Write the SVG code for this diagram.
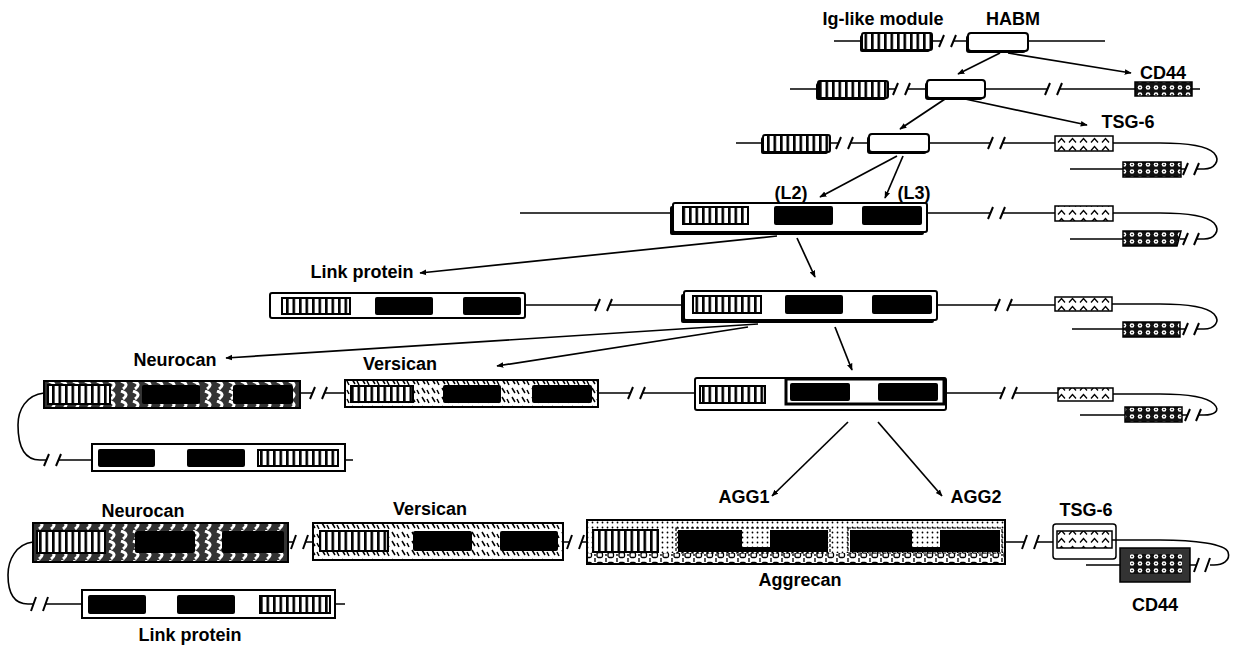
<svg xmlns="http://www.w3.org/2000/svg" width="1235" height="647" viewBox="0 0 1235 647">
<defs>
<style>
.t{font-family:"Liberation Sans",Arial,sans-serif;font-weight:bold;font-size:18px;fill:#000}
.ln{stroke:#000;stroke-width:1.6;fill:none}
.br{stroke:#000;stroke-width:2;fill:none}
.ig{fill:url(#pIg);stroke:#000;stroke-width:2}
.wb{fill:#fff;stroke:#000;stroke-width:2}
.blk{fill:#000}
.sh{fill:#000}
.tsg{fill:url(#pTsg);stroke:#000;stroke-width:1.5}
.cd{fill:url(#pCd);stroke:#000;stroke-width:1.5}
.ar{stroke:#000;stroke-width:1.7;fill:none;marker-end:url(#ah)}
.neu{fill:url(#pNeu);stroke:#000;stroke-width:2}
.ver{fill:url(#pVer);stroke:#000;stroke-width:2}
.agg{fill:url(#pAgg);stroke:#000;stroke-width:2}
</style>
<marker id="ah" viewBox="0 0 10 10" refX="9" refY="5" markerWidth="7" markerHeight="7" orient="auto" markerUnits="userSpaceOnUse"><path d="M0,1 L10,5 L0,9 Z" fill="#000"/></marker>
<pattern id="pIg" width="6.5" height="40" patternUnits="userSpaceOnUse"><rect width="6.5" height="40" fill="#fff"/><rect x="0" width="2.6" height="40" fill="#000"/></pattern>
<pattern id="pTsg" width="11" height="8" patternUnits="userSpaceOnUse"><rect width="11" height="8" fill="#fff"/><path d="M2,6.5 L5.5,2.5 L9,6.5" stroke="#000" stroke-width="1.3" fill="none"/></pattern>
<pattern id="pCd" width="8" height="7" patternUnits="userSpaceOnUse"><rect width="8" height="7" fill="#111"/><circle cx="4" cy="3.5" r="2.3" fill="#fff"/><circle cx="4" cy="3.5" r="0.8" fill="#000"/></pattern>
<pattern id="pNeu" width="12" height="10" patternUnits="userSpaceOnUse"><rect width="12" height="10" fill="#333"/><path d="M1,1 Q10,4 3,9" stroke="#fff" stroke-width="3" fill="none"/></pattern>
<pattern id="pVer" width="10" height="9" patternUnits="userSpaceOnUse"><rect width="10" height="9" fill="#fff"/><path d="M2,1 L5,6 M7,3 L9,7" stroke="#000" stroke-width="1.5"/></pattern>
<pattern id="pAgg" width="5" height="5" patternUnits="userSpaceOnUse"><rect width="5" height="5" fill="#fff"/><circle cx="2.5" cy="2.5" r="0.9" fill="#000"/></pattern>
<pattern id="pAggB" width="11" height="10" patternUnits="userSpaceOnUse"><rect width="11" height="10" fill="#fff"/><circle cx="1" cy="1" r="0.9" fill="#000"/><circle cx="1" cy="5" r="0.9" fill="#000"/><circle cx="1" cy="9" r="0.9" fill="#000"/><rect x="3" y="2.5" width="5.5" height="5" rx="1.5" fill="#fff" stroke="#000" stroke-width="1.3"/></pattern>
</defs>
<rect width="1235" height="647" fill="#fff"/>

<g id="labels">
<text class="t" x="883" y="25" text-anchor="middle">Ig-like module</text>
<text class="t" x="1013" y="25" text-anchor="middle">HABM</text>
<text class="t" x="1163" y="79" text-anchor="middle">CD44</text>
<text class="t" x="1128" y="128" text-anchor="middle">TSG-6</text>
<text class="t" x="791" y="199" text-anchor="middle">(L2)</text>
<text class="t" x="914" y="199" text-anchor="middle">(L3)</text>
<text class="t" x="362" y="278" text-anchor="middle">Link protein</text>
<text class="t" x="175" y="366" text-anchor="middle">Neurocan</text>
<text class="t" x="400" y="370" text-anchor="middle">Versican</text>
<text class="t" x="143" y="517" text-anchor="middle">Neurocan</text>
<text class="t" x="430" y="515" text-anchor="middle">Versican</text>
<text class="t" x="744" y="503" text-anchor="middle">AGG1</text>
<text class="t" x="976" y="503" text-anchor="middle">AGG2</text>
<text class="t" x="1086" y="516" text-anchor="middle">TSG-6</text>
<text class="t" x="800" y="586" text-anchor="middle">Aggrecan</text>
<text class="t" x="190" y="641" text-anchor="middle">Link protein</text>
<text class="t" x="1155" y="611" text-anchor="middle">CD44</text>
</g>

<g id="row1">
<path class="ln" d="M834,41H862M932,41H941M953,41H968M1028,41H1105"/>
<path class="br" d="M939,47L944,35M951,47L956,35"/>
<rect class="sh" x="860" y="35" width="70" height="17" rx="2"/>
<rect class="ig" x="862" y="33" width="70" height="17" rx="2"/>
<rect class="sh" x="966" y="35" width="60" height="18" rx="3"/>
<rect class="wb" x="968" y="33" width="60" height="18" rx="3"/>
</g>

<g id="row2">
<path class="ln" d="M790,89H818M888,89H895M907,89H927M985,89H1047M1059,89H1135M1192,89H1200"/>
<path class="br" d="M893,95L898,83M905,95L910,83M1045,95L1050,83M1057,95L1062,83"/>
<rect class="sh" x="816" y="83" width="70" height="17" rx="2"/>
<rect class="ig" x="818" y="81" width="70" height="17" rx="2"/>
<rect class="sh" x="925" y="82" width="58" height="18" rx="3"/>
<rect class="wb" x="927" y="80" width="58" height="18" rx="3"/>
<rect class="cd" x="1135" y="82" width="57" height="14"/>
</g>

<g id="row3">
<path class="ln" d="M736,143H763M830,143H838M850,143H869M929,143H990M1002,143H1055"/>
<path class="br" d="M836,149L841,137M848,149L853,137M988,149L993,137M1000,149L1005,137"/>
<rect class="sh" x="761" y="137" width="67" height="17" rx="2"/>
<rect class="ig" x="763" y="135" width="67" height="17" rx="2"/>
<rect class="sh" x="867" y="136" width="60" height="18" rx="3"/>
<rect class="wb" x="869" y="134" width="60" height="18" rx="3"/>
<rect class="tsg" x="1055" y="136" width="58" height="15"/>
<path class="ln" d="M1113,143H1160C1190,143 1208,147 1214,153C1221,161 1214,169 1204,169H1197M1181,169H1185M1070,169H1123"/>
<path class="br" d="M1183,175L1188,163M1194,175L1199,163"/>
<rect class="cd" x="1123" y="162" width="58" height="15"/>
</g>

<g id="row4">
<path class="ln" d="M520,213H673M927,213H990M1002,213H1055"/>
<path class="br" d="M988,219L993,207M1000,219L1005,207"/>
<rect class="sh" x="670" y="206" width="254" height="29" rx="2"/>
<rect class="wb" x="673" y="203" width="254" height="29" rx="2"/>
<rect class="ig" x="683" y="207" width="65" height="17"/>
<rect class="blk" x="774" y="206" width="59" height="19" rx="2"/>
<rect class="blk" x="862" y="206" width="60" height="19" rx="2"/>
<rect class="tsg" x="1055" y="206" width="58" height="15"/>
<path class="ln" d="M1113,213H1160C1190,213 1208,217 1214,223C1221,231 1214,239 1204,239H1197M1180,239H1185M1070,239H1123"/>
<path class="br" d="M1183,245L1188,233M1194,245L1199,233"/>
<path class="cd" d="M1123,231H1181L1177,246H1123Z"/>
</g>

<g id="row5">
<path class="ln" d="M525,305H597M609,305H684M937,305H997M1009,305H1055"/>
<path class="br" d="M595,311L600,299M607,311L612,299M995,311L1000,299M1007,311L1012,299"/>
<rect class="wb" x="270" y="293" width="255" height="25" rx="2"/>
<rect class="ig" x="282" y="298" width="68" height="16"/>
<rect class="blk" x="375" y="297" width="58" height="18" rx="2"/>
<rect class="blk" x="463" y="297" width="58" height="18" rx="2"/>
<rect class="sh" x="681" y="294" width="253" height="29" rx="2"/>
<rect class="wb" x="684" y="291" width="253" height="29" rx="2"/>
<rect class="ig" x="693" y="296" width="68" height="17"/>
<rect class="blk" x="785" y="295" width="58" height="19" rx="2"/>
<rect class="blk" x="872" y="295" width="60" height="19" rx="2"/>
<rect class="tsg" x="1055" y="297" width="57" height="14"/>
<path class="ln" d="M1112,304H1160C1190,304 1208,308 1214,314C1221,322 1214,329 1204,329H1197M1180,329H1185M1072,329H1123"/>
<path class="br" d="M1183,335L1188,323M1194,335L1199,323"/>
<rect class="cd" x="1123" y="322" width="57" height="15"/>
</g>

<g id="row6">
<path class="ln" d="M300,393H312M324,393H345M598,393H630M642,393H695M946,393H1002M1014,393H1058"/>
<path class="br" d="M310,399L315,387M322,399L327,387M628,399L633,387M640,399L645,387M1000,399L1005,387M1012,399L1017,387"/>
<rect class="neu" x="44" y="381" width="256" height="27"/>
<rect class="ig" x="48" y="385" width="62" height="19"/>
<rect class="blk" x="142" y="385" width="58" height="19" rx="2"/>
<rect class="blk" x="233" y="385" width="60" height="19" rx="2"/>
<rect class="ver" x="345" y="380" width="253" height="27"/>
<rect class="ig" x="351" y="386" width="62" height="16"/>
<rect class="blk" x="443" y="385" width="58" height="18" rx="2"/>
<rect class="blk" x="532" y="385" width="60" height="18" rx="2"/>
<rect class="wb" x="695" y="378" width="251" height="32" rx="2"/>
<rect class="ig" x="700" y="386" width="65" height="17"/>
<rect x="786" y="379" width="158" height="25" fill="#fff" stroke="#000" stroke-width="3"/>
<rect class="blk" x="790" y="383" width="60" height="18" rx="2"/>
<rect class="blk" x="878" y="383" width="60" height="18" rx="2"/>
<rect class="tsg" x="1058" y="388" width="55" height="13"/>
<path class="ln" d="M1113,394H1160C1190,394 1208,398 1214,404C1221,411 1214,415 1204,415H1199M1182,415H1187M1080,415H1125"/>
<path class="br" d="M1185,421L1190,409M1196,421L1201,409"/>
<rect class="cd" x="1125" y="407" width="57" height="15"/>
<path class="ln" d="M44,393C26,395 18,410 18,425C18,446 24,460 40,460H46M58,460H92M345,460H353"/>
<path class="br" d="M44,466L49,454M56,466L61,454"/>
<rect class="wb" x="92" y="444" width="253" height="27"/>
<rect class="blk" x="98" y="449" width="57" height="18" rx="2"/>
<rect class="blk" x="187" y="449" width="58" height="18" rx="2"/>
<rect class="ig" x="258" y="450" width="80" height="16"/>
</g>

<g id="row7">
<path class="ln" d="M288,542H293M305,542H313M563,542H569M581,542H587M1005,542H1024M1036,542H1053"/>
<path class="br" d="M291,549L296,535M303,549L308,535M567,549L572,535M579,549L584,535M1022,549L1027,535M1034,549L1039,535"/>
<rect class="neu" x="33" y="523" width="255" height="39"/>
<rect class="ig" x="37" y="531" width="68" height="22"/>
<rect class="blk" x="135" y="531" width="60" height="22" rx="2"/>
<rect class="blk" x="222" y="531" width="62" height="22" rx="2"/>
<rect class="ver" x="313" y="523" width="250" height="37"/>
<rect class="ig" x="320" y="531" width="68" height="20"/>
<rect class="blk" x="413" y="531" width="59" height="20" rx="2"/>
<rect class="blk" x="500" y="531" width="58" height="20" rx="2"/>
<rect class="agg" x="587" y="520" width="418" height="44"/>
<rect x="588" y="553" width="416" height="10" fill="url(#pAggB)"/>
<rect class="ig" x="593" y="530" width="65" height="22"/>
<rect x="676" y="528" width="154" height="25" fill="none" stroke="#000" stroke-width="1.2" stroke-dasharray="3,2"/>
<rect class="blk" x="678" y="530" width="150" height="22"/>
<rect x="742" y="530" width="28" height="17" fill="url(#pAgg)"/>
<rect x="848" y="528" width="154" height="25" fill="none" stroke="#000" stroke-width="1.2" stroke-dasharray="3,2"/>
<rect class="blk" x="850" y="530" width="150" height="22"/>
<rect x="912" y="530" width="28" height="17" fill="url(#pAgg)"/>
<rect class="wb" x="1053" y="524" width="63" height="35" rx="3" style="stroke-width:1.5"/>
<rect class="tsg" x="1057" y="531" width="55" height="17"/>
<path class="ln" d="M1112,540H1160C1195,540 1225,544 1228,552C1231,561 1222,565 1214,565H1210M1190,565H1196M1086,565H1120"/>
<path class="br" d="M1194,572L1199,558M1205,572L1210,558"/>
<rect x="1120" y="548" width="70" height="34" fill="#333" stroke="#000" stroke-width="1.5"/>
<rect class="cd" x="1130" y="554" width="52" height="20" style="stroke:none"/>
<path class="ln" d="M33,542C16,544 8,560 8,575C8,594 14,604 28,604H33M45,604H82M335,604H345"/>
<path class="br" d="M31,611L36,597M43,611L48,597"/>
<rect class="wb" x="82" y="590" width="253" height="28"/>
<rect class="blk" x="88" y="595" width="58" height="19" rx="2"/>
<rect class="blk" x="177" y="595" width="58" height="19" rx="2"/>
<rect class="ig" x="260" y="596" width="70" height="17"/>
</g>

<g id="connectors">
<path class="ar" d="M1000,53L958,74"/>
<path class="ar" d="M1008,53L1131,73"/>
<path class="ar" d="M945,99L900,129"/>
<path class="ar" d="M965,99L1087,125"/>
<path class="ar" d="M897,156L820,197"/>
<path class="ar" d="M903,156L885,198"/>
<path class="ar" d="M777,236L420,273"/>
<path class="ar" d="M797,238L815,277"/>
<path class="ar" d="M758,324L226,358"/>
<path class="ar" d="M748,327L497,366"/>
<path class="ar" d="M835,327L852,370"/>
<path class="ar" d="M848,422L772,496"/>
<path class="ar" d="M878,422L942,496"/>
</g>
</svg>
